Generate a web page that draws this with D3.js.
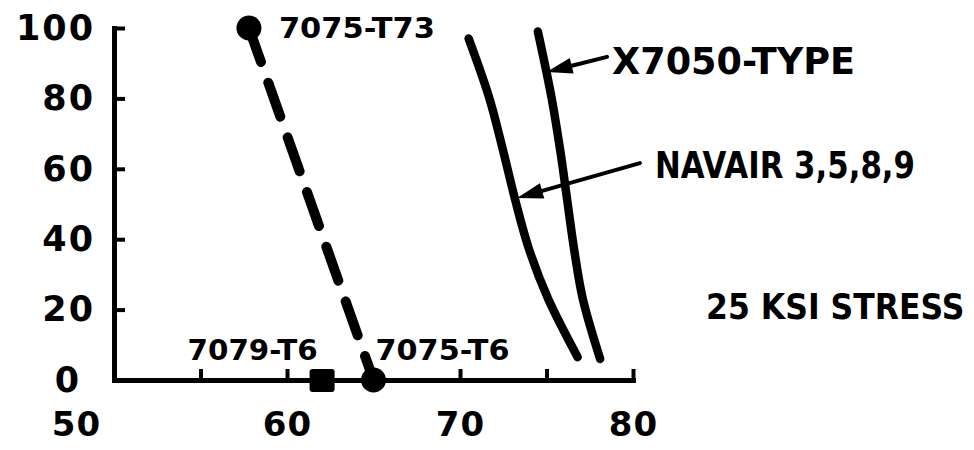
<!DOCTYPE html>
<html>
<head>
<meta charset="utf-8">
<script src="https://cdn.jsdelivr.net/npm/d3@7"></script>
<style>
  body { margin: 0; background: #fff; }
  svg { display: block; }
</style>
</head>
<body>
<div id="chart"></div>
<script>
// Tick values
const xTickMarks = [50, 55, 60, 65, 70, 75, 80];
const xTickLabels = [50, 60, 70, 80];
const yTickValues = [0, 20, 40, 60, 80, 100];

// 7075 tempers, joined by the dashed line
const alloy7075Names = ["7075-T73", "7075-T6"];
const alloy7075X = [57.8, 65.0];
const alloy7075Y = [100, 0];

// 7079-T6 point
const alloy7079Name = "7079-T6";
const alloy7079X = [62.0];
const alloy7079Y = [0];

// Curves
const navairName = "NAVAIR 3,5,8,9";
const navairX = [70.5, 71.7, 72.5, 73.2, 74.0, 75.1, 76.8];
const navairY = [97, 80, 65, 51, 37, 23, 6.5];

const x7050Name = "X7050-TYPE";
const x7050X = [74.5, 75.3, 75.8, 76.2, 76.6, 77.1, 78.1];
const x7050Y = [99, 80, 65, 51, 37, 23, 6];

const stressNote = "25 KSI STRESS";

function createChart() {
    const width = 974;
    const height = 450;
    const font = "'DejaVu Sans', sans-serif";

    const svg = d3.select("#chart")
        .append("svg")
        .attr("width", width)
        .attr("height", height)
        .style("background", "#fff");

    const x = d3.scaleLinear().domain([50, 80]).range([114, 633]);
    const y = d3.scaleLinear().domain([0, 100]).range([380, 28]);

    // Axes, ticks pointing inward
    const xAxis = svg.append("g")
        .attr("transform", `translate(0,${y(0)})`)
        .call(d3.axisBottom(x)
            .tickValues(xTickMarks)
            .tickSize(-11)
            .tickSizeOuter(0)
            .tickPadding(32)
            .tickFormat(d => xTickLabels.includes(d) ? d : ""));

    const yAxis = svg.append("g")
        .attr("transform", `translate(${x(50)},0)`)
        .call(d3.axisLeft(y)
            .tickValues(yTickValues)
            .tickSize(-11)
            .tickSizeOuter(0)
            .tickPadding(19));

    [xAxis, yAxis].forEach(g => {
        g.attr("font-family", font).attr("font-weight", "bold");
        g.select(".domain").attr("stroke", "#000").attr("stroke-width", 5).attr("stroke-linecap", "square");
        g.selectAll(".tick line").attr("stroke", "#000").attr("stroke-width", 4);
        g.selectAll(".tick text").attr("fill", "#000");
    });
    xAxis.attr("font-size", 34).selectAll(".tick text").attr("letter-spacing", 1);
    yAxis.attr("font-size", 35).selectAll(".tick text").attr("letter-spacing", 2);

    // the "50" and the "0" sit left of the corner in the original
    xAxis.selectAll(".tick text").filter(d => d === 50).attr("dx", -38);
    yAxis.selectAll(".tick text").filter(d => d === 0).attr("dx", -14);

    const line = d3.line().x(d => x(d[0])).y(d => y(d[1]));
    const curve = d3.line().x(d => x(d[0])).y(d => y(d[1])).curve(d3.curveCatmullRom.alpha(0.5));

    // Dashed 7075 line
    svg.append("path")
        .datum(d3.zip(alloy7075X, alloy7075Y))
        .attr("d", line)
        .attr("fill", "none")
        .attr("stroke", "#000")
        .attr("stroke-width", 10)
        .attr("stroke-linecap", "round")
        .attr("stroke-dasharray", "36 22");

    // Solid curves
    [[navairX, navairY], [x7050X, x7050Y]].forEach(([xs, ys]) => {
        svg.append("path")
            .datum(d3.zip(xs, ys))
            .attr("d", curve)
            .attr("fill", "none")
            .attr("stroke", "#000")
            .attr("stroke-width", 8.5)
            .attr("stroke-linecap", "round");
    });

    // 7079-T6 square
    svg.selectAll(".sq")
        .data(d3.zip(alloy7079X, alloy7079Y))
        .join("rect")
        .attr("class", "sq")
        .attr("x", d => x(d[0]) - 12)
        .attr("y", d => y(d[1]) - 11)
        .attr("width", 25)
        .attr("height", 23)
        .attr("rx", 3)
        .attr("fill", "#000");

    // 7075 points
    svg.selectAll(".pt")
        .data(d3.zip(alloy7075X, alloy7075Y))
        .join("circle")
        .attr("class", "pt")
        .attr("cx", d => x(d[0]))
        .attr("cy", d => y(d[1]))
        .attr("r", 12.5)
        .attr("fill", "#000");

    // Text labels
    const label = (tx, ty, text, size, len) => {
        const t = svg.append("text")
            .attr("x", tx)
            .attr("y", ty)
            .attr("font-family", font)
            .attr("font-weight", "bold")
            .attr("font-size", size)
            .attr("fill", "#000")
            .text(text);
        if (len) t.attr("textLength", len).attr("lengthAdjust", "spacingAndGlyphs");
        return t;
    };

    label(x(alloy7075X[0]) + 30, y(alloy7075Y[0]) + 10, alloy7075Names[0], 29, 156);
    label(x(alloy7075X[1]) + 2, y(alloy7075Y[1]) - 20, alloy7075Names[1], 28, 134);
    label(x(alloy7079X[0]) - 134, y(alloy7079Y[0]) - 20, alloy7079Name, 28, 130);
    label(612, 74, x7050Name, 37, 243);
    label(655, 178, navairName, 37, 260);
    // stretched upward instead of squeezed sideways, so it stays inside the page
    label(0, 0, stressNote, 31.5)
        .attr("transform", "translate(706,319) scale(1,1.15)");

    // Pointer arrows
    function arrow(x1, y1, x2, y2) {
        const ang = Math.atan2(y2 - y1, x2 - x1);
        const len = 26, half = 8;
        const bx = x2 - len * Math.cos(ang), by = y2 - len * Math.sin(ang);
        svg.append("line")
            .attr("x1", x1).attr("y1", y1).attr("x2", bx).attr("y2", by)
            .attr("stroke", "#000").attr("stroke-width", 4).attr("stroke-linecap", "round");
        const px = -Math.sin(ang) * half, py = Math.cos(ang) * half;
        svg.append("polygon")
            .attr("points", [[x2, y2], [bx + px, by + py], [bx - px, by - py]].map(p => p.join(",")).join(" "))
            .attr("fill", "#000");
    }
    arrow(x(78.5), y(91.8), x(75.0), y(87.5));
    arrow(x(80.4), y(61.6), x(73.3), y(51.7));
}

createChart();
</script>
</body>
</html>
